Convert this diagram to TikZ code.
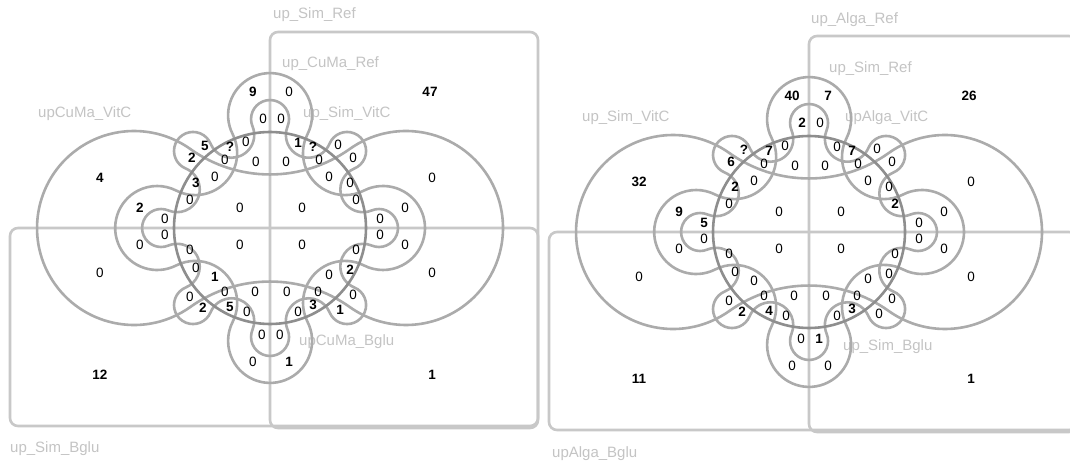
\documentclass[tikz,border=0pt]{standalone}
\usepackage{fontspec}
\setmainfont{Liberation Sans}
\usetikzlibrary{calc}
\definecolor{rectgray}{HTML}{C8C8C8}
\definecolor{setgray}{HTML}{ABABAB}
\definecolor{ringgray}{HTML}{8E8E8E}
\definecolor{labelgray}{HTML}{C4C4C4}

\def\zerov{0}
\newcommand{\cnum}[1]{\edef\tmpv{#1}\ifx\tmpv\zerov 0\else\textbf{#1}\fi}

% one cogwheel set: #1 lobes, #2 lobe distance, #3 lobe radius, #4 bay distance
\newcommand{\cogset}[4]{%
  \pgfmathsetmacro{\cD}{180/#1}%
  \pgfmathsetmacro{\cG}{atan2(#4*sin(\cD), #4*cos(\cD)-#2)}%
  \pgfmathsetmacro{\cR}{veclen(#4*cos(\cD)-#2, #4*sin(\cD))-#3}%
  \draw[setline] ($(0:#2)+(-\cG:#3)$)
    \foreach \k [evaluate=\k as \t using (\k-1)*2*\cD] in {1,...,#1} {
      arc[start angle=\t-\cG, end angle=\t+\cG, radius=#3]
      arc[start angle=\t+\cG+180, end angle=\t-\cG+180+2*\cD, radius=\cR]
    } -- cycle;
}

\begin{document}
\begin{tikzpicture}[x=1pt, y=-1pt,
  rectline/.style={draw=rectgray, line width=2.6pt, rounded corners=8pt},
  setline/.style={draw=setgray, line width=2.6pt},
  ringline/.style={draw=ringgray, line width=2.6pt},
  setlabel/.style={text=labelgray, inner sep=0pt, anchor=base west, font=\fontsize{15}{16}\selectfont},
  cnt/.style={inner sep=0pt, font=\fontsize{13.5}{14}\selectfont}]
\clip (0,0) rectangle (1070,465);
\fill[white] (0,0) rectangle (1070,465);

% labels
\node[setlabel] (la1) at (273,18.5) {up\_Sim\_Ref};
\node[setlabel] (la2) at (282,67.5) {up\_CuMa\_Ref};
\node[setlabel] (la3) at (38,117.5) {upCuMa\_VitC};
\node[setlabel] (la4) at (303,117.5) {up\_Sim\_VitC};
\node[setlabel] (la5) at (299,345.5) {upCuMa\_Bglu};
\node[setlabel] (la6) at (10,452.5) {up\_Sim\_Bglu};
\node[setlabel] (lb1) at (811,23.5) {up\_Alga\_Ref};
\node[setlabel] (lb2) at (829,72.5) {up\_Sim\_Ref};
\node[setlabel] (lb3) at (582,121.5) {up\_Sim\_VitC};
\node[setlabel] (lb4) at (845,121.5) {upAlga\_VitC};
\node[setlabel] (lb5) at (843,350.5) {up\_Sim\_Bglu};
\node[setlabel] (lb6) at (552,457.5) {upAlga\_Bglu};

% the two diagrams
\foreach \sx/\sy in {0/0, 539/4} {
\begin{scope}[shift={(\sx,\sy)}]
\draw[rectline] (270,32) rectangle (538,428);
\draw[rectline] (10,228) rectangle (538,426);
\begin{scope}[shift={(270,228)}]
\cogset{2}{136}{97}{191}
\cogset{4}{113}{42}{106}
\cogset{8}{109}{19}{100.7}
\draw[ringline] (0,0) circle (96);
\end{scope}
\end{scope}
}

% counts
\foreach \x/\y/\vl/\vr [count=\i] in {
 100/178/4/32, 100/273/0/0, 100/375/12/11, 430/92/47/26, 432/178/0/0, 432/273/0/0, 432/375/1/1,
 253/92/9/40, 289/92/0/7, 263/119/0/2, 281/119/0/0,
 140/208/2/9, 140/245/0/0, 165/219/0/5, 165/235/0/0,
 405/208/0/0, 405/245/0/0, 380/219/0/0, 380/235/0/0,
 253/362/0/0, 289/362/1/0, 262/335/0/0, 280/335/0/1,
 256/162/0/0, 286/162/0/0, 240/208/0/0, 302/208/0/0, 240/245/0/0, 302/245/0/0, 255/292/0/0, 287/292/0/0,
 205/146/5/?, 230/147/?/7, 246/142/0/0, 192/158/2/6, 225/160/0/0, 215/177/0/0, 196/183/3/2, 190/200/0/0,
 298/143/1/0, 313/147/?/7, 338/145/0/0, 353/158/0/0, 319/160/0/0, 329/177/0/0, 350/183/0/0, 356/200/0/2,
 190/250/0/0, 196/268/0/0, 215/277/1/0, 190/297/0/0, 203/308/2/2, 225/292/0/0, 230/307/5/4, 247/312/0/0,
 356/250/0/0, 350/270/2/0, 329/275/0/0, 353/295/0/0, 340/310/1/0, 318/292/0/0, 313/305/3/3, 298/312/0/0} {
  \node[cnt] (na\i) at (\x,\y) {\cnum{\vl}};
  \node[cnt] (nb\i) at (\x+539,\y+4) {\cnum{\vr}};
}
\end{tikzpicture}
\end{document}
